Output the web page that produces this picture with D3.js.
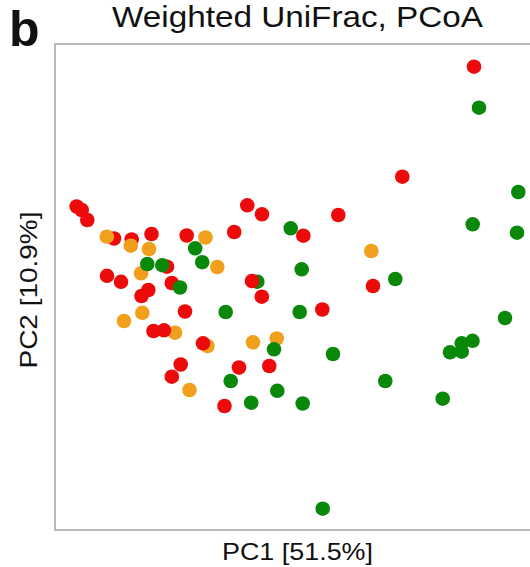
<!DOCTYPE html>
<html>
<head>
<meta charset="utf-8">
<script src="https://cdn.jsdelivr.net/npm/d3@7"></script>
<style>
  html, body { margin: 0; padding: 0; background: #fff; }
  svg { display: block; }
  text { font-family: "Liberation Sans", Arial, sans-serif; fill: #111; }
</style>
</head>
<body>
<svg id="chart" width="530" height="567"></svg>
<script>
// ---- Data ----
const panelLabel = "b";
const title = "Weighted UniFrac, PCoA";
const xLabel = "PC1 [51.5%]";
const yLabel = "PC2 [10.9%]";
const groups = ["red", "orange", "green"];
const groupColors = ["#ec0a0a", "#f0a01c", "#0a880a"];

// parallel arrays: group, PC1, PC2 (drawing order matters for overlaps)
const sampleGroup = [
  "green","red","red",
  "orange","orange","orange","orange","orange","orange","orange",
  "orange","orange","orange","orange","orange","orange","orange",
  "red","red","red","red","red","red","red","red","red","red","red","red","red","red","red","red",
  "red","red","red","red","red","red","red","red","red","red","red","red","red","red","red",
  "green","green","green","green","green","green","green","green","green","green","green","green","green","green",
  "green","green","green","green","green","green","green","green","green","green","green","green","green","green"
];
const pc1 = [
  -0.0427,-0.186,-0.1683,
  -0.1932,-0.1692,-0.151,-0.0945,-0.0827,-0.159,-0.176,
  -0.1577,-0.125,-0.0925,-0.047,-0.0233,-0.1105,0.0713,
  -0.2233,-0.2183,-0.2127,-0.1485,-0.1133,-0.0658,-0.0527,-0.038,0.0033,-0.133,-0.193,-0.179,-0.1282,-0.1517,-0.1585,-0.048,
  -0.0382,-0.115,-0.1465,-0.136,-0.097,-0.1193,-0.1282,-0.061,-0.0307,-0.0755,0.174,0.1023,0.0383,0.073,0.0223,
  -0.1527,-0.1377,-0.12,-0.1048,-0.0978,-0.0743,-0.026,-0.0693,-0.0227,-0.0488,-0.0093,0.0017,-0.0003,0.0027,
  0.033,0.0853,0.0953,0.0227,0.1427,0.15,0.1617,0.1617,0.1725,0.205,0.1727,0.217,0.2183,0.179
];
const pc2 = [
  0.0083,0.0515,0.0505,
  0.0533,0.0443,0.041,0.0525,0.023,0.0167,-0.031,
  -0.0228,-0.0427,-0.056,-0.0523,-0.0485,-0.1,0.039,
  0.0835,0.08,0.07,0.056,0.0545,0.058,0.0847,0.0757,0.0543,0.0233,0.0142,0.0082,0.007,0.0,-0.006,0.009,
  -0.0067,-0.0215,-0.041,-0.0403,-0.0533,-0.0745,-0.0867,-0.0775,-0.076,-0.116,0.2233,0.1133,0.075,0.004,-0.0195,
  0.026,0.0248,0.0025,0.0417,0.0278,-0.022,-0.0593,-0.091,-0.1008,-0.1127,0.0617,0.0207,-0.022,-0.1135,
  -0.064,-0.091,0.011,-0.2187,-0.1087,-0.0623,-0.0617,-0.0533,-0.0508,-0.028,0.0657,0.0573,0.098,0.1823
];
const xDomain = [-0.245, 0.230];
const yDomain = [-0.240, 0.246];

// ---- Layout ----
const svg = d3.select("#chart");
const plot = { left: 55, top: 44, right: 531, bottom: 530 };

const x = d3.scaleLinear().domain(xDomain).range([plot.left, 530]);
const y = d3.scaleLinear().domain(yDomain).range([plot.bottom, plot.top]);
const color = d3.scaleOrdinal().domain(groups).range(groupColors);

// frame
svg.append("rect")
  .attr("x", plot.left).attr("y", plot.top)
  .attr("width", plot.right - plot.left + 5).attr("height", plot.bottom - plot.top)
  .attr("fill", "none").attr("stroke", "#a8a8a8").attr("stroke-width", 1.6);

// points
const n = Math.min(sampleGroup.length, pc1.length, pc2.length);
const data = d3.range(n).map(i => ({ g: sampleGroup[i], a: pc1[i], b: pc2[i] }));
svg.append("g").selectAll("circle").data(data).join("circle")
  .attr("cx", d => x(d.a))
  .attr("cy", d => y(d.b))
  .attr("r", 7.3)
  .attr("fill", d => color(d.g));

// texts
svg.append("text").attr("x", 9).attr("y", 46)
  .style("font-weight", "bold").style("font-size", "50px").text(panelLabel);

svg.append("text").attr("x", 112).attr("y", 27)
  .style("font-size", "29px")
  .attr("textLength", 371).attr("lengthAdjust", "spacingAndGlyphs")
  .text(title);

svg.append("text").attr("x", 222).attr("y", 560)
  .style("font-size", "24px")
  .attr("textLength", 151).attr("lengthAdjust", "spacingAndGlyphs")
  .text(xLabel);

svg.append("text")
  .attr("transform", "translate(37,290) rotate(-90)")
  .attr("text-anchor", "middle")
  .style("font-size", "24px")
  .attr("textLength", 157).attr("lengthAdjust", "spacingAndGlyphs")
  .text(yLabel);
</script>
</body>
</html>
